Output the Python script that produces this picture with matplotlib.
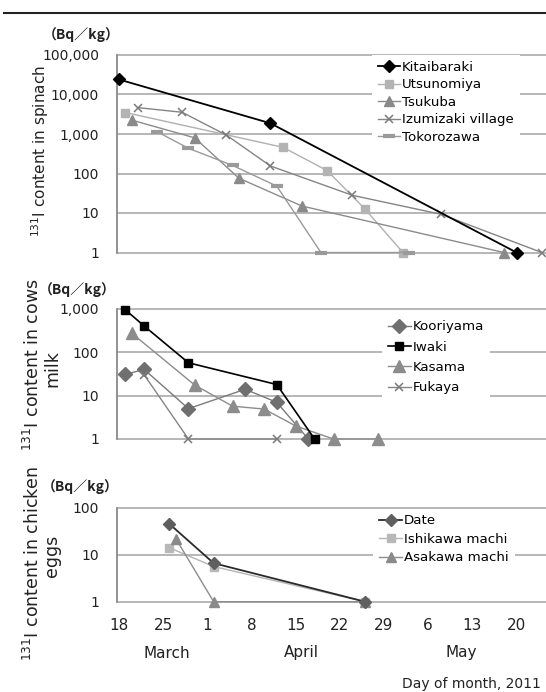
import matplotlib
matplotlib.use('Agg')
import matplotlib.pyplot as plt
import matplotlib.dates as mdates
import pandas as pd
from matplotlib.lines import Line2D

plt.rcParams['font.family'] = ['DejaVu Sans']
plt.rcParams['mathtext.fontset'] = 'dejavusans'

# ---------------- data: spinach ----------------
kitaibaraki_dates = ['2011-03-18', '2011-04-11', '2011-05-20']
kitaibaraki_vals = [24000, 1870, 1]
utsunomiya_dates = ['2011-03-19', '2011-04-13', '2011-04-20', '2011-04-26', '2011-05-02']
utsunomiya_vals = [3500, 460, 118, 12.5, 1]
tsukuba_dates = ['2011-03-20', '2011-03-30', '2011-04-06', '2011-04-16', '2011-05-18']
tsukuba_vals = [2250, 800, 76, 15, 1]
izumizaki_dates = ['2011-03-21', '2011-03-28', '2011-04-04', '2011-04-11', '2011-04-24', '2011-05-08', '2011-05-24']
izumizaki_vals = [4650, 3550, 940, 155, 28, 9.3, 1]
tokorozawa_dates = ['2011-03-24', '2011-03-29', '2011-04-05', '2011-04-12', '2011-04-19', '2011-05-03']
tokorozawa_vals = [1150, 435, 160, 48, 1, 1]

# ---------------- data: cows milk ----------------
kooriyama_dates = ['2011-03-19', '2011-03-22', '2011-03-29', '2011-04-07', '2011-04-12', '2011-04-17']
kooriyama_vals = [31, 40, 5.0, 14, 7.0, 1]
iwaki_dates = ['2011-03-19', '2011-03-22', '2011-03-29', '2011-04-12', '2011-04-18']
iwaki_vals = [950, 400, 57, 18, 1]
kasama_dates = ['2011-03-20', '2011-03-30', '2011-04-05', '2011-04-10', '2011-04-15', '2011-04-21', '2011-04-28']
kasama_vals = [275, 17.5, 5.7, 4.9, 2.0, 1, 1]
fukaya_dates = ['2011-03-22', '2011-03-29', '2011-04-12']
fukaya_vals = [30, 1, 1]

# ---------------- data: chicken eggs ----------------
date_dates = ['2011-03-26', '2011-04-02', '2011-04-26']
date_vals = [45, 6.6, 1]
ishikawa_dates = ['2011-03-26', '2011-04-02', '2011-04-26']
ishikawa_vals = [14, 5.6, 1]
asakawa_dates = ['2011-03-27', '2011-04-02', '2011-04-26']
asakawa_vals = [22, 1, 1]

tick_dates = ['2011-03-18', '2011-03-25', '2011-04-01', '2011-04-08', '2011-04-15',
              '2011-04-22', '2011-04-29', '2011-05-06', '2011-05-13', '2011-05-20']
tick_labels = ['18', '25', '1', '8', '15', '22', '29', '6', '13', '20']
month_labels = ['March', 'April', 'May']

W, H = 546, 692
fig = plt.figure(figsize=(W / 100, H / 100), dpi=100)

def d(s):
    return mdates.date2num(pd.to_datetime(s))

base = d('2011-03-18')
PX_DAY = 6.31
X0 = 119.0
AX_L, AX_R = 117.0, 546.0
xlim = (base + (AX_L - X0) / PX_DAY, base + (AX_R - X0) / PX_DAY)

GRID_C = '#a3a3a3'

def make_ax(y1, dec, n, lo=0.22, hi=0.12):
    bottom = y1 + lo * dec
    top = y1 - (n + hi) * dec
    ax = fig.add_axes([AX_L / W, 1 - bottom / H, (AX_R - AX_L) / W, (bottom - top) / H])
    ax.set_yscale('log')
    ax.set_ylim(10 ** (-lo), 10 ** (n + hi))
    ax.set_xlim(*xlim)
    ticks = [10 ** k for k in range(n + 1)]
    ax.set_yticks(ticks)
    ax.set_yticklabels([f'{t:,}' for t in ticks])
    ax.yaxis.set_minor_locator(matplotlib.ticker.NullLocator())
    ax.grid(axis='y', color=GRID_C, lw=1.1)
    ax.set_axisbelow(True)
    for s in ['top', 'right', 'bottom']:
        ax.spines[s].set_visible(False)
    ax.spines['left'].set_color('#8a8a8a')
    ax.spines['left'].set_linewidth(1.3)
    ax.spines['left'].set_bounds(1, 10 ** n)
    ax.tick_params(axis='y', length=0, pad=13, labelsize=10, colors='#222222')
    ax.tick_params(axis='x', length=0)
    ax.set_xticks([])
    ax.patch.set_visible(False)
    return ax

def series(ax, dates, vals, label, color, lcolor, marker, ms, lw=1.0, mew=1.0, z=2):
    x = [d(s) for s in dates]
    ln, = ax.plot(x, vals, color=lcolor, lw=lw, marker=marker, ms=ms, mfc=color, mec=color,
                  mew=mew, label=label, zorder=z, clip_on=False)
    return ln

def place_legend(ax, fs, labelspacing, text_left, first_center, handlelength):
    leg = ax.legend(loc='upper left', bbox_to_anchor=(0, 0), bbox_transform=fig.transFigure,
                    fontsize=fs, labelspacing=labelspacing, handlelength=handlelength,
                    handletextpad=0.15, borderpad=0.45, borderaxespad=0, numpoints=1,
                    frameon=True, facecolor='white', edgecolor='none', framealpha=1, fancybox=False)
    fig.canvas.draw()
    r = fig.canvas.get_renderer()
    t = leg.get_texts()[0].get_window_extent(r)
    dx = text_left - t.x0
    dy = (H - first_center) - (t.y0 + t.y1) / 2
    leg.set_bbox_to_anchor((dx / W, dy / H), transform=fig.transFigure)
    leg.set_zorder(5)
    return leg

# ---------------- panel 1: spinach ----------------
ax1 = make_ax(252.5, 39.5, 5)
series(ax1, kitaibaraki_dates, kitaibaraki_vals, 'Kitaibaraki', '#000000', '#000000', 'D', 6.5, lw=1.3, z=4)
series(ax1, utsunomiya_dates, utsunomiya_vals, 'Utsunomiya', '#b3b3b3', '#b0b0b0', 's', 5.5)
series(ax1, tsukuba_dates, tsukuba_vals, 'Tsukuba', '#8a8a8a', '#8c8c8c', '^', 6.5)
series(ax1, izumizaki_dates, izumizaki_vals, 'Izumizaki village', '#7a7a7a', '#858585', 'x', 6, mew=1.1)
series(ax1, tokorozawa_dates, tokorozawa_vals, 'Tokorozawa', '#9a9a9a', '#9a9a9a', '_', 9, mew=3)
place_legend(ax1, 9.6, 0.33, 402, 67.5, 1.65)

# ---------------- panel 2: cows milk ----------------
ax2 = make_ax(439.0, 43.4, 3)
series(ax2, kooriyama_dates, kooriyama_vals, 'Kooriyama', '#6f6f6f', '#7a7a7a', 'D', 7)
series(ax2, iwaki_dates, iwaki_vals, 'Iwaki', '#000000', '#000000', 's', 5.5, lw=1.2, z=4)
series(ax2, kasama_dates, kasama_vals, 'Kasama', '#8c8c8c', '#8c8c8c', '^', 9)
series(ax2, fukaya_dates, fukaya_vals, 'Fukaya', '#7a7a7a', '#858585', 'x', 6, mew=1.1)
place_legend(ax2, 9.6, 0.55, 412.5, 326.7, 1.7)

# ---------------- panel 3: chicken eggs ----------------
ax3 = make_ax(601.7, 47.0, 2)
series(ax3, date_dates, date_vals, 'Date', '#5f5f5f', '#2a2a2a', 'D', 6.5, lw=1.3, z=4)
series(ax3, ishikawa_dates, ishikawa_vals, 'Ishikawa machi', '#b8b8b8', '#b5b5b5', 's', 5.5)
series(ax3, asakawa_dates, asakawa_vals, 'Asakawa machi', '#8a8a8a', '#8c8c8c', '^', 7.5)
place_legend(ax3, 9.6, 0.4, 404, 521, 1.7)

ax3.set_xticks([d(s) for s in tick_dates])
ax3.set_xticklabels(tick_labels)
ax3.tick_params(axis='x', length=0, pad=4, labelsize=11, colors='#222222')

# month labels and x title
for lab, xp in zip(month_labels, [167, 301, 461]):
    fig.text(xp / W, 1 - 653 / H, lab, ha='center', va='center', fontsize=11, color='#222222')
fig.text(541 / W, 1 - 684 / H, 'Day of month, 2011', ha='right', va='center', fontsize=10, color='#222222')

# unit labels
for xc, yc in [(81, 35), (77, 290), (80, 487)]:
    fig.text(xc / W, 1 - yc / H, '（Bq／kg）', ha='center', va='center', fontsize=10,
             fontweight='bold', family=['Noto Sans CJK JP', 'DejaVu Sans'], color='#222222')

# y-axis titles
fig.text(40 / W, 1 - 151 / H, r'$^{131}$I content in spinach', rotation=90, ha='center', va='center',
         fontsize=11, color='#222222')
fig.text(33 / W, 1 - 365 / H, '$^{131}$I content in cows', rotation=90, ha='center', va='center',
         fontsize=12.5, color='#222222')
fig.text(52 / W, 1 - 369 / H, 'milk', rotation=90, ha='center', va='center',
         fontsize=12.5, color='#222222')
fig.text(33 / W, 1 - 563 / H, '$^{131}$I content in chicken', rotation=90, ha='center', va='center',
         fontsize=12.5, color='#222222')
fig.text(52 / W, 1 - 556 / H, 'eggs', rotation=90, ha='center', va='center',
         fontsize=12.5, color='#222222')

# top rule
fig.add_artist(Line2D([4 / W, 1], [1 - 13.3 / H, 1 - 13.3 / H], transform=fig.transFigure,
                      color='#222222', lw=1.5))

fig.savefig('out.png', dpi=100)
